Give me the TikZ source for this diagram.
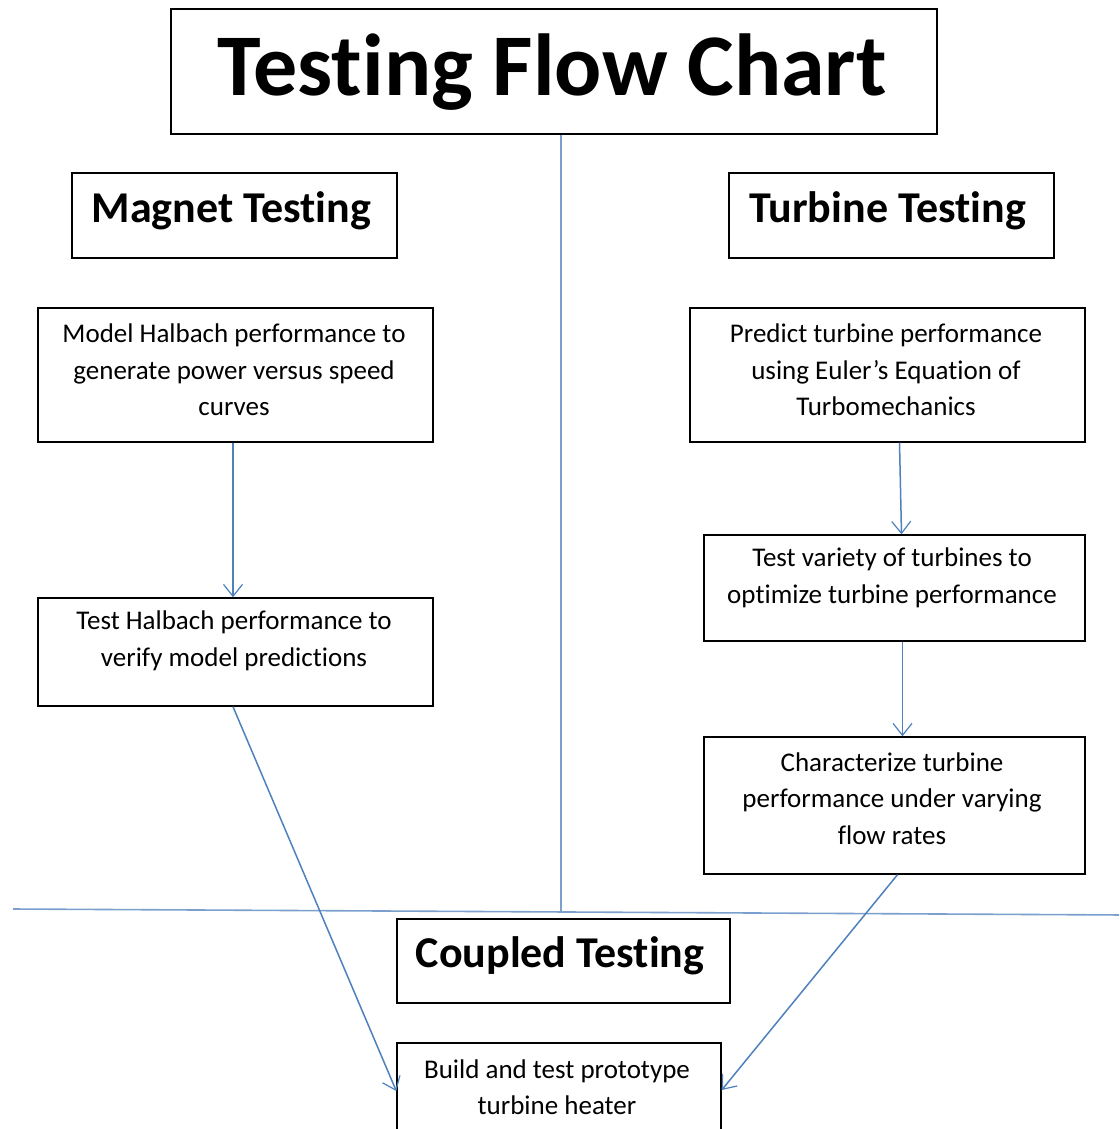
\documentclass[tikz,border=0pt]{standalone}
\usepackage{fontspec}
\setmainfont[Ligatures=NoCommon]{Carlito}
\usetikzlibrary{arrows.meta}
\definecolor{linkblue}{HTML}{4F81BD}
\tikzset{
  box/.style={draw=black, line width=1.4pt, inner sep=0pt},
  txt/.style={font=\fontsize{27}{36.5}\selectfont, align=center, inner sep=0pt},
  head/.style={font=\fontsize{44}{50}\selectfont\bfseries, inner sep=0pt},
  link/.style={draw=linkblue, line width=1.5pt,
    -{Straight Barb[length=12pt,width=19pt,line width=1.2pt]}},
  divider/.style={draw=linkblue!75, line width=1.6pt},
}
\begin{document}
\begin{tikzpicture}[x=1pt,y=-1pt]
\clip (0,0) rectangle (1119,1129);
\fill[white] (0,0) rectangle (1119,1129);

% title
\node[box, minimum width=766pt, minimum height=125pt] (title) at (554,71.5) {};
\node[font=\fontsize{88}{96}\selectfont\bfseries, inner sep=0pt] (titletext) at (552,72) {Testing Flow Chart};

% column headings
\node[box, minimum width=325pt, minimum height=85pt] (magnet) at (234.5,215.5) {};
\node[head] (magnettext) at (231.5,211) {Magnet Testing};
\node[box, minimum width=325pt, minimum height=85pt] (turbine) at (891.5,215.5) {};
\node[head] (turbinetext) at (887.5,211) {Turbine Testing};

% magnet column
\node[box, minimum width=395pt, minimum height=134pt] (m1) at (235.5,375) {};
\node[txt] (m1text) at (234,370) {Model Halbach performance to\\generate power versus speed\\curves};
\node[box, minimum width=395pt, minimum height=108pt] (m2) at (235.5,652) {};
\node[txt] (m2text) at (234,641) {Test Halbach performance to\\verify model predictions};

% turbine column
\node[box, minimum width=395pt, minimum height=134pt] (t1) at (887.5,375) {};
\node[txt] (t1text) at (886,370) {Predict turbine performance\\using Euler’s Equation of\\Turbomechanics};
\node[box, minimum width=381pt, minimum height=106pt] (t2) at (894.5,588) {};
\node[txt] (t2text) at (892,578) {Test variety of turbines to\\optimize turbine performance};
\node[box, minimum width=381pt, minimum height=137pt] (t3) at (894.5,805.5) {};
\node[txt] (t3text) at (892,798.5) {Characterize turbine\\performance under varying\\flow rates};

% coupled section
\node[box, minimum width=333pt, minimum height=84pt] (coupled) at (563.5,961) {};
\node[head] (coupledtext) at (560,956) {Coupled Testing};
\node[box, minimum width=324pt, minimum height=117pt] (proto) at (559,1101.5) {};
\node[txt] (prototext) at (557,1087) {Build and test prototype\\turbine heater};

% dividers
\coordinate (hl) at (13,909);
\coordinate (hr) at (1125,915);
\coordinate (hm) at (561,912);
\draw[divider] (hl) -- (hr);
\draw[divider] (title.south -| hm) -- (hm);

% connectors
\draw[link] ([xshift=-2.5pt]m1.south) -- ([xshift=-2.5pt]m2.north);
\draw[link] ([xshift=-2.5pt]m2.south) -- (proto.west |- 0,1091);
\draw[link] ([xshift=12pt]t1.south) -- ([xshift=7pt]t2.north);
\draw[link] ([xshift=8pt]t2.south) -- ([xshift=8pt]t3.north);
\draw[link] ([xshift=3pt]t3.south) -- (proto.east |- 0,1090);
\end{tikzpicture}
\end{document}
